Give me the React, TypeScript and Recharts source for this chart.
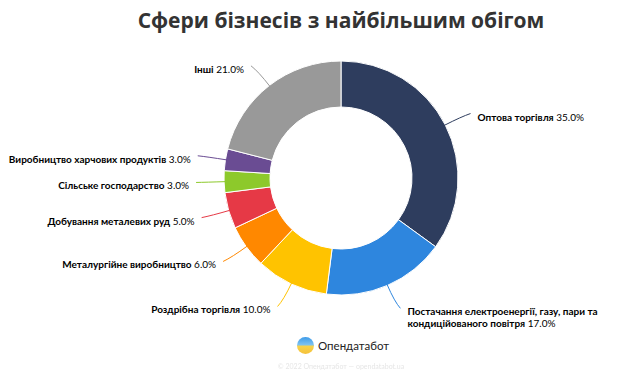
import React from "react";
import { Cell, Pie, PieChart } from "recharts";

const sectors = [
  "Оптова торгівля",
  "Постачання електроенергії, газу, пари та кондиційованого повітря",
  "Роздрібна торгівля",
  "Металургійне виробництво",
  "Добування металевих руд",
  "Сільське господарство",
  "Виробництво харчових продуктів",
  "Інші",
];

const shares = [35, 17, 10, 6, 5, 3, 3, 21];

const colors = [
  "#2e3d5e",
  "#2e86de",
  "#ffc300",
  "#ff8800",
  "#e63946",
  "#8dc92b",
  "#6a4c93",
  "#999999",
];

const data = sectors.map((name, i) => ({ name, value: shares[i] }));

const RAD = Math.PI / 180;
const TITLE_FONT = "'Open Sans', 'Noto Sans', sans-serif";
const LABEL_FONT = "Lato, 'Open Sans', sans-serif";

// split long names into lines of ~40 chars
function wrap(text: string, max: number) {
  const words = text.split(" ");
  const lines: string[] = [];
  let cur = "";
  for (const w of words) {
    if (cur && (cur + " " + w).length > max) {
      lines.push(cur);
      cur = w;
    } else {
      cur = cur ? cur + " " + w : w;
    }
  }
  if (cur) lines.push(cur);
  return lines;
}

function renderLabel(props: any) {
  const { cx, cy, midAngle, outerRadius, index, name, value } = props;
  const color = colors[index];
  const pt = (r: number) => ({
    x: cx + r * Math.cos(-midAngle * RAD),
    y: cy + r * Math.sin(-midAngle * RAD),
  });
  const start = pt(outerRadius - 1);
  const ctrl = pt(outerRadius + 18);
  const end = pt(outerRadius + 25);
  const right = end.x >= cx;
  const endX = end.x + (right ? 3 : -3);
  const tx = end.x + (right ? 10 : -10);
  const lines = wrap(name, 40);
  const pct = ` ${Number(value).toFixed(1)}%`;
  return (
    <g>
      <path
        d={`M${start.x},${start.y} Q${ctrl.x},${ctrl.y} ${endX},${end.y}`}
        stroke={color}
        strokeWidth={1}
        fill="none"
      />
      {lines.map((line, i) => (
        <text
          key={i}
          x={tx}
          y={end.y + 7 + i * 12}
          textAnchor={right ? "start" : "end"}
          fontFamily={LABEL_FONT}
          fontSize={10}
          fill="#000"
        >
          <tspan fontWeight="bold">{line}</tspan>
          {i === lines.length - 1 && <tspan>{pct}</tspan>}
        </text>
      ))}
    </g>
  );
}

export default function App() {
  return (
    <div
      style={{
        position: "fixed",
        left: 0,
        top: 0,
        width: 626,
        height: 372,
        background: "#fff",
      }}
    >
      <div
        style={{
          position: "absolute",
          top: 6,
          left: 0,
          width: 682,
          textAlign: "center",
          fontFamily: TITLE_FONT,
          fontSize: 21,
          fontWeight: "bold",
          color: "#333",
        }}
      >
        Сфери бізнесів з найбільшим обігом
      </div>
      <PieChart
        width={626}
        height={372}
        margin={{ top: 0, right: 0, bottom: 0, left: 0 }}
      >
        <Pie
          data={data}
          dataKey="value"
          nameKey="name"
          cx={341}
          cy={178}
          innerRadius={71}
          outerRadius={117}
          startAngle={90}
          endAngle={-270}
          stroke="#fff"
          strokeWidth={1}
          label={renderLabel}
          labelLine={false}
          isAnimationActive={false}
        >
          {data.map((d, i) => (
            <Cell key={d.name} fill={colors[i]} />
          ))}
        </Pie>
      </PieChart>
      <div
        style={{
          position: "absolute",
          top: 337,
          left: 297,
          display: "flex",
          alignItems: "center",
          gap: 4,
          fontFamily: LABEL_FONT,
        }}
      >
        <div
          style={{
            width: 17,
            height: 17,
            borderRadius: "50%",
            background:
              "linear-gradient(#3d9be9 0%, #7cc1f0 45%, #f7d24a 55%, #f5c13a 100%)",
          }}
        />
        <span style={{ fontSize: 11.5, color: "#222" }}>Опендатабот</span>
      </div>
      <div
        style={{
          position: "absolute",
          top: 362,
          left: 0,
          width: 682,
          textAlign: "center",
          fontFamily: LABEL_FONT,
          fontSize: 7,
          color: "#e6e6e6",
        }}
      >
        © 2022 Опендатабот — opendatabot.ua
      </div>
    </div>
  );
}
